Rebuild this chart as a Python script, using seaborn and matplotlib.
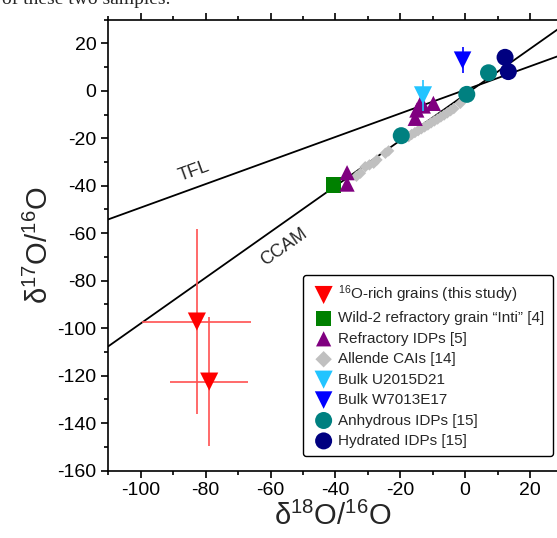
import numpy as np
import matplotlib
matplotlib.use('Agg')
import matplotlib.pyplot as plt
import seaborn as sns

# Data (delta18O, delta17O)
rich_x = [-82.7, -78.9]
rich_y = [-97.2, -122.5]
rich_xerr = [16.8, 12.0]
rich_yerr = [38.9, 27.1]

inti_x = [-40.7]
inti_y = [-39.7]

ridp_x = [-36.4, -36.4, -15.4, -14.9, -13.8, -12.9, -9.8]
ridp_y = [-34.5, -39.3, -11.6, -8.1, -5.3, -6.4, -5.3]

cai_x = [-33.5, -32.3, -30.8, -29.5, -28.2, -27.2, -24.6, -23.6, -17.4, -16.5, -15.5,
         -14.5, -13.5, -12.5, -11.5, -10.5, -9.5, -8.5, -7.5, -6.5, -5.5, -4.5, -3.5, -1.5]
cai_y = [-36.0, -34.7, -32.0, -31.2, -30.5, -29.1, -26.3, -25.3, -19.3, -18.4, -17.6,
         -16.8, -16.0, -15.2, -14.4, -13.5, -12.7, -11.9, -11.0, -10.2, -9.3, -8.4, -7.5, -5.3]

u2015_x = [-13.0]
u2015_y = [-1.9]
u2015_yerr = [6.5]

w7013_x = [-0.8]
w7013_y = [12.9]
w7013_yerr = [5.5]

anhyd_x = [-19.7, 0.5, 7.2]
anhyd_y = [-18.9, -1.5, 7.6]

hyd_x = [12.3, 13.3]
hyd_y = [14.1, 8.1]

# reference lines: slope, intercept
tfl = (0.496, 0.4)
ccam = (0.964, -1.6)
line_x = np.array([-110.0, 40.0])

sns.set_style('ticks')
plt.rcParams['font.family'] = ['Liberation Sans', 'DejaVu Sans']
plt.rcParams['mathtext.fontset'] = 'custom'
plt.rcParams['mathtext.rm'] = 'Liberation Sans'
plt.rcParams['axes.unicode_minus'] = False

fig = plt.figure(figsize=(5.57, 5.38), dpi=100)
ax = fig.add_axes([108.3 / 557, 1 - 470.6 / 538, 1 - 108.3 / 557, (470.6 - 19.6) / 538])

# TFL and CCAM
sns.lineplot(x=line_x, y=tfl[0] * line_x + tfl[1], color='black', lw=1.3, ax=ax, zorder=1)
sns.lineplot(x=line_x, y=ccam[0] * line_x + ccam[1], color='black', lw=1.3, ax=ax, zorder=1)
ax.text(-83.6, -34.1, 'TFL', rotation=19.9, ha='center', va='center', fontsize=13)
ax.text(-55.8, -66.0, 'CCAM', rotation=35.2, ha='center', va='center', fontsize=13)

# error bars
ax.errorbar(rich_x, rich_y, xerr=rich_xerr, yerr=rich_yerr, fmt='none',
            ecolor='#ff5050', elinewidth=1.2, capsize=0, zorder=2)
ax.errorbar(u2015_x, u2015_y, yerr=u2015_yerr, fmt='none',
            ecolor='#22c4ff', elinewidth=1.2, capsize=0, zorder=4)
ax.errorbar(w7013_x, w7013_y, yerr=w7013_yerr, fmt='none',
            ecolor='#0000ff', elinewidth=1.2, capsize=0, zorder=4)

series = [
    (rich_x, rich_y, 'v', 170, '#ff0000', r'$\mathregular{^{16}}$O-rich grains (this study)', 3),
    (inti_x, inti_y, 's', 120, '#008000', 'Wild-2 refractory grain \u201cInti\u201d [4]', 3),
    (ridp_x, ridp_y, '^', 120, '#800080', 'Refractory IDPs [5]', 3),
    (cai_x, cai_y, 'D', 34, '#c0c0c0', 'Allende CAIs [14]', 2),
    (u2015_x, u2015_y, 'v', 170, '#22c4ff', 'Bulk U2015D21', 5),
    (w7013_x, w7013_y, 'v', 160, '#0000ff', 'Bulk W7013E17', 5),
    (anhyd_x, anhyd_y, 'o', 150, '#008080', 'Anhydrous IDPs [15]', 3),
    (hyd_x, hyd_y, 'o', 150, '#000080', 'Hydrated IDPs [15]', 3),
]
handles = []
for xs, ys, mk, size, col, lab, z in series:
    sns.scatterplot(x=xs, y=ys, marker=mk, s=size, color=col, edgecolor='none',
                    linewidth=0, ax=ax, zorder=z, legend=False)
    handles.append(ax.scatter([], [], marker=mk, s=size if mk != 'D' else 70,
                              color=col, edgecolor='none', label=lab))

ax.set_xlim(-110, (557 - 465) / 3.25)
ax.set_ylim(-160, 30)
ax.set_xticks(np.arange(-100, 21, 20))
ax.set_xticks(np.arange(-110, 29, 10), minor=True)
ax.set_yticks(np.arange(-160, 21, 20))
ax.set_yticks(np.arange(-160, 31, 10), minor=True)

for side in ['left', 'top', 'bottom']:
    ax.spines[side].set_color('black')
    ax.spines[side].set_linewidth(1.2)
ax.spines['right'].set_visible(False)

ax.tick_params(which='both', direction='out', top=True, right=False,
               labeltop=False, color='black', width=1.2, labelsize=14, labelcolor='black')
ax.tick_params(which='major', length=5)
ax.tick_params(which='minor', length=3)

ax.set_xlabel(r'δ$\mathregular{^{18}}$O/$\mathregular{^{16}}$O', fontsize=21, labelpad=2)
ax.set_ylabel(r'δ$\mathregular{^{17}}$O/$\mathregular{^{16}}$O', fontsize=21, labelpad=2)

leg = ax.legend(handles=handles, loc='upper left',
                bbox_to_anchor=(303 / 557, 1 - 275 / 538), bbox_transform=fig.transFigure,
                fontsize=11, frameon=True, fancybox=True, framealpha=1,
                edgecolor='black', labelspacing=0.42, handlelength=1.6,
                handletextpad=0.15, borderpad=0.55, borderaxespad=0)
leg.get_frame().set_linewidth(1.0)

# cut-off caption line from the page above
fig.text(0.004, 1 - 4.5 / 538, 'of these two samples.', family='Liberation Serif',
         fontsize=14, va='baseline', ha='left')

fig.savefig('out.png', dpi=100)
